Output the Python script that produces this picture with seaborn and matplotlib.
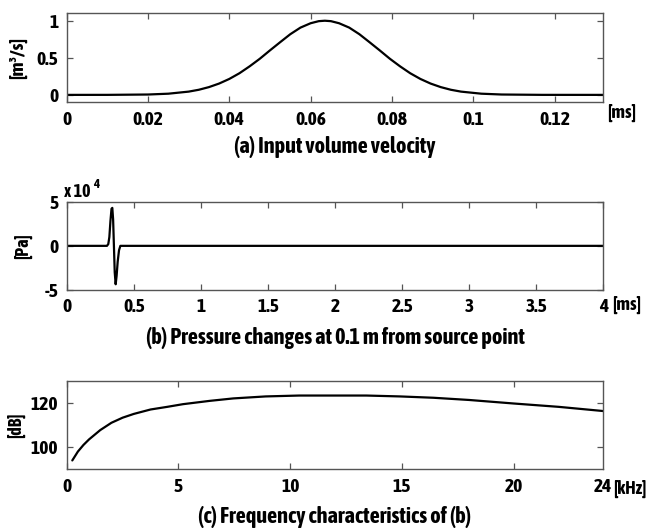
import matplotlib
matplotlib.use("Agg")
import matplotlib.pyplot as plt
import seaborn as sns
import pandas as pd

# (a) input volume velocity [m^3/s] vs time [ms]
vel_t = [0.0, 0.010, 0.020, 0.025, 0.030, 0.0325, 0.035, 0.0375, 0.040, 0.0425,
         0.045, 0.0475, 0.050, 0.0525, 0.055, 0.0575, 0.060, 0.062, 0.0635, 0.065,
         0.067, 0.0695, 0.072, 0.0745, 0.077, 0.0795, 0.082, 0.0845, 0.087, 0.0895,
         0.092, 0.0945, 0.097, 0.102, 0.107, 0.117, 0.132]
vel_v = [0.0, 0.0003, 0.005, 0.016, 0.044, 0.069, 0.105, 0.153, 0.215, 0.292,
         0.385, 0.487, 0.600, 0.710, 0.818, 0.907, 0.966, 0.994, 1.0, 0.994,
         0.966, 0.907, 0.818, 0.710, 0.600, 0.487, 0.385, 0.292, 0.215, 0.153,
         0.105, 0.069, 0.044, 0.016, 0.005, 0.0003, 0.0]

# (b) pressure at 0.1 m [x 10^4 Pa] vs time [ms]
pr_t = [0.0, 0.300, 0.310, 0.318, 0.326, 0.334, 0.340, 0.346, 0.352, 0.358,
        0.365, 0.372, 0.380, 0.390, 0.400, 4.0]
pr_v = [0.0, 0.0, 0.2, 1.0, 2.8, 4.2, 4.3, 3.0, 0.0, -3.0,
        -4.35, -3.4, -1.8, -0.5, 0.0, 0.0]

# (c) spectrum of (b) [dB] vs frequency [kHz]
fr_f = [0.25, 0.5, 0.75, 1.0, 1.5, 2.0, 2.5, 3.0, 3.75, 4.5, 5.2, 6.4, 7.45,
        8.9, 10.4, 11.9, 13.4, 14.9, 16.4, 18.0, 20.0, 22.0, 24.0]
fr_db = [94.0, 98.0, 101.0, 103.5, 107.7, 111.0, 113.3, 115.0, 117.0, 118.2,
         119.4, 120.9, 122.0, 122.9, 123.3, 123.3, 123.3, 122.9, 122.3, 121.3,
         119.7, 118.2, 116.3]

a_xticks = [0, 0.02, 0.04, 0.06, 0.08, 0.1, 0.12]
a_xlabels = ["0", "0.02", "0.04", "0.06", "0.08", "0.1", "0.12"]
a_yticks = [0, 0.5, 1]
a_ylabels = ["0", "0.5", "1"]
b_xticks = [0, 0.5, 1, 1.5, 2, 2.5, 3, 3.5, 4]
b_xlabels = ["0", "0.5", "1", "1.5", "2", "2.5", "3", "3.5", "4"]
b_yticks = [-5, 0, 5]
b_ylabels = ["-5", "0", "5"]
c_xticks = [0, 5, 10, 15, 20, 24]
c_xlabels = ["0", "5", "10", "15", "20", "24"]
c_yticks = [100, 120]
c_ylabels = ["100", "120"]

sns.set_style("ticks")
FONT = ["Asap Condensed", "DejaVu Sans"]
plt.rcParams["font.family"] = FONT
plt.rcParams["font.weight"] = 700
plt.rcParams["text.color"] = "black"
plt.rcParams["xtick.color"] = "black"
plt.rcParams["ytick.color"] = "black"

W, H = 650, 528
fig = plt.figure(figsize=(W / 100, H / 100), dpi=100)

def box(top, bottom, left=66.7, right=603.3):
    return [left / W, 1 - bottom / H, (right - left) / W, (bottom - top) / H]

ax_a = fig.add_axes(box(13.3, 102.3))
ax_b = fig.add_axes(box(201.7, 290.0))
ax_c = fig.add_axes(box(380.7, 469.3))

sns.lineplot(data=pd.DataFrame({"t": vel_t, "v": vel_v}), x="t", y="v",
             ax=ax_a, color="black", linewidth=1.6)
sns.lineplot(data=pd.DataFrame({"t": pr_t, "p": pr_v}), x="t", y="p",
             ax=ax_b, color="black", linewidth=1.6)
sns.lineplot(data=pd.DataFrame({"f": fr_f, "db": fr_db}), x="f", y="db",
             ax=ax_c, color="black", linewidth=1.6)

ax_a.set_xlim(0, 0.132)
ax_a.set_ylim(-0.1, 1.1)
ax_b.set_xlim(0, 4)
ax_b.set_ylim(-5, 5)
ax_c.set_xlim(0, 24)
ax_c.set_ylim(90, 130)

for ax, xt, xl, yt, yl in [(ax_a, a_xticks, a_xlabels, a_yticks, a_ylabels),
                           (ax_b, b_xticks, b_xlabels, b_yticks, b_ylabels),
                           (ax_c, c_xticks, c_xlabels, c_yticks, c_ylabels)]:
    ax.set_xticks(xt)
    ax.set_xticklabels(xl)
    ax.set_yticks(yt)
    ax.set_yticklabels(yl)
    ax.set_xlabel("")
    ax.set_ylabel("")
    ax.tick_params(direction="in", length=4.5, width=0.9, color="#555555",
                   labelcolor="black", top=True, right=True, labelsize=14,
                   pad=6)
    for s in ax.spines.values():
        s.set_visible(True)
        s.set_color("#555555")
        s.set_linewidth(1.0)
    for lab in ax.get_xticklabels() + ax.get_yticklabels():
        lab.set_fontweight(700)

# the last x tick of (c) sits on the frame
ax_c.xaxis.get_major_ticks()[-1].tick1line.set_visible(False)
ax_c.xaxis.get_major_ticks()[-1].tick2line.set_visible(False)

def px(x, y, s, **kw):
    kw.setdefault("fontsize", 13)
    kw.setdefault("fontweight", 700)
    fig.text(x / W, 1 - y / H, s, **kw)

# axis units
px(18, 58, "[m³/s]", rotation=90, ha="center", va="center", fontsize=14)
px(23, 246, "[Pa]", rotation=90, ha="center", va="center", fontsize=13)
px(16, 425, "[dB]", rotation=90, ha="center", va="center", fontsize=13)
px(607, 113, "[ms]", ha="left", va="center", fontsize=13.5)
px(612, 305, "[ms]", ha="left", va="center", fontsize=13.5)
px(613, 489, "[kHz]", ha="left", va="center", fontsize=13)

# exponent of panel (b)
px(64, 192, "x 10", ha="left", va="center", fontsize=13)
px(93, 185, "4", ha="left", va="center", fontsize=9.5)

# panel captions
px(335, 147, "(a) Input volume velocity", ha="center", va="center", fontsize=16)
px(335, 338, "(b) Pressure changes at 0.1 m from source point", ha="center",
   va="center", fontsize=16)
px(335, 517, "(c) Frequency characteristics of (b)", ha="center", va="center",
   fontsize=16)

fig.savefig("out.png", dpi=100)
